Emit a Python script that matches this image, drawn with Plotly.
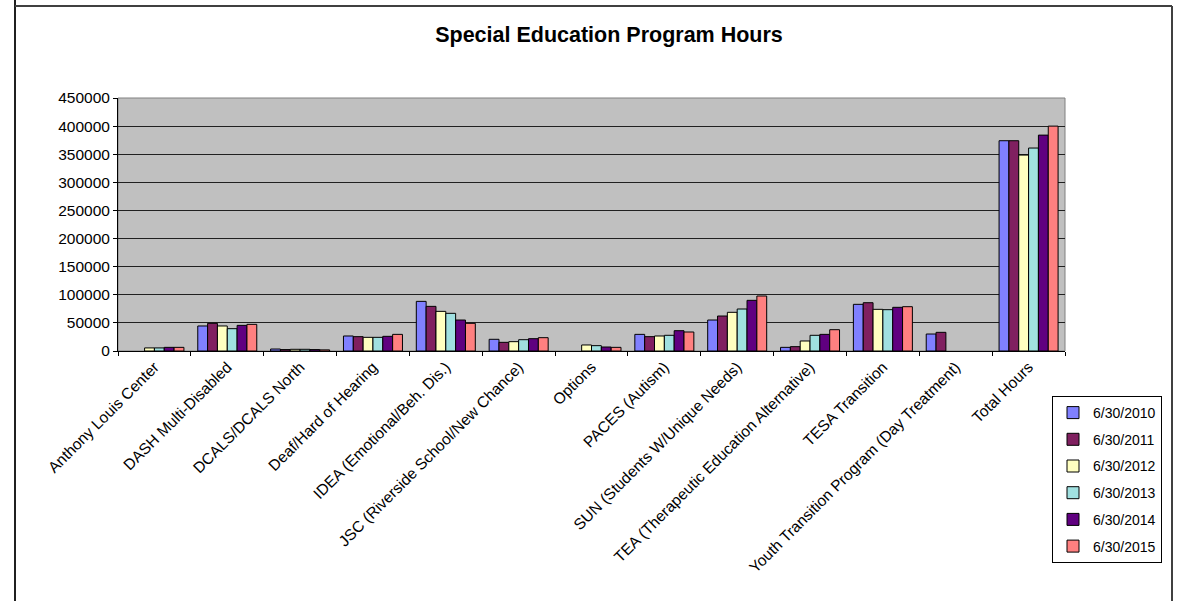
import plotly.graph_objects as go

# Program names (x categories)
programs = [
    "Anthony Louis Center",
    "DASH Multi-Disabled",
    "DCALS/DCALS North",
    "Deaf/Hard of Hearing",
    "IDEA (Emotional/Beh. Dis.)",
    "JSC (Riverside School/New Chance)",
    "Options",
    "PACES (Autism)",
    "SUN (Students W/Unique Needs)",
    "TEA (Therapeutic Education Alternative)",
    "TESA Transition",
    "Youth Transition Program (Day Treatment)",
    "Total Hours",
]

# Fiscal year-end dates (series)
years = ["6/30/2010", "6/30/2011", "6/30/2012", "6/30/2013", "6/30/2014", "6/30/2015"]

# Program hours by year-end, one list per series
hours_2010 = [None, 44500, 3500, 26700, 88300, 20800, None, 29600, 55100, 6500, 83000, 30200, 374000]
hours_2011 = [None, 49200, 2500, 25500, 79400, 15400, None, 25500, 62200, 7700, 85900, 33200, 374000]
hours_2012 = [5500, 44500, 3000, 24300, 70500, 16600, 10700, 26700, 68800, 17800, 74100, None, 348500]
hours_2013 = [5500, 39700, 3000, 24300, 67000, 20100, 9500, 27900, 74700, 27900, 73500, None, 361000]
hours_2014 = [6500, 45600, 2500, 26100, 55100, 21900, 7100, 36100, 90100, 29600, 77700, None, 384000]
hours_2015 = [6500, 47400, 2000, 29600, 49200, 23700, 6500, 33800, 97800, 37900, 78800, None, 400000]

series = [hours_2010, hours_2011, hours_2012, hours_2013, hours_2014, hours_2015]
colors = ["#8080FF", "#802060", "#FFFFC0", "#A0E0E0", "#600080", "#FF8080"]

y_ticks = list(range(0, 450001, 50000))

W, H = 1182, 601
ML, MR, MT, MB = 118, 117, 98, 250
PW, PH = W - ML - MR, H - MT - MB

fig = go.Figure()
for name, vals, col in zip(years, series, colors):
    fig.add_trace(go.Bar(
        x=programs, y=vals, name=name, legendgroup=name,
        marker=dict(color=col, line=dict(color="black", width=1)),
    ))


def px_x(p):
    return (p - ML) / PW


def px_y(p):
    return (H - MB - p) / PH


FAMILY = "Liberation Sans, Arial, sans-serif"
font = dict(family=FAMILY, size=14, color="black")

fig.update_layout(
    width=W, height=H,
    margin=dict(l=ML, r=MR, t=MT, b=MB),
    paper_bgcolor="white",
    plot_bgcolor="#C0C0C0",
    barmode="group",
    bargap=0.19,
    bargroupgap=0,
    font=font,
    title=dict(
        text="<b>Special Education Program Hours</b>",
        x=609 / W, xref="container", xanchor="center",
        y=1 - 34 / H, yref="container", yanchor="middle",
        font=dict(family=FAMILY, size=21.5, color="black"),
    ),
    xaxis=dict(
        tickangle=-45,
        showline=True, linecolor="black", linewidth=1,
        ticks="outside", ticklen=4, tickcolor="black",
        tickson="boundaries",
        showgrid=False,
        tickfont=dict(family=FAMILY, size=15.5, color="black"),
    ),
    yaxis=dict(
        range=[0, 450000],
        tickvals=y_ticks,
        ticktext=[str(v) for v in y_ticks],
        showline=True, linecolor="black", linewidth=1,
        ticks="outside", ticklen=4, tickcolor="black",
        showgrid=True, gridcolor="#202020", gridwidth=1,
        zeroline=False,
        tickfont=dict(family=FAMILY, size=15.5, color="black"),
    ),
    legend=dict(
        x=px_x(1052), y=px_y(396), xanchor="left", yanchor="top",
        bordercolor="black", borderwidth=1, bgcolor="white",
        tracegroupgap=5.5,
        font=dict(family=FAMILY, size=14, color="black"),
    ),
    showlegend=True,
    shapes=[
        # plot-area frame
        dict(type="rect", xref="paper", yref="paper", x0=0, x1=1, y0=0, y1=1,
             line=dict(color="#808080", width=1), layer="below"),
        # outer chart border
        dict(type="line", xref="paper", yref="paper",
             x0=px_x(15), x1=px_x(15), y0=px_y(0), y1=px_y(601),
             line=dict(color="#202020", width=2)),
        dict(type="line", xref="paper", yref="paper",
             x0=px_x(15), x1=px_x(1172), y0=px_y(6), y1=px_y(6),
             line=dict(color="#404040", width=2)),
        dict(type="line", xref="paper", yref="paper",
             x0=px_x(1172), x1=px_x(1172), y0=px_y(6), y1=px_y(601),
             line=dict(color="#404040", width=2)),
    ],
)

fig.write_html("out.html")
